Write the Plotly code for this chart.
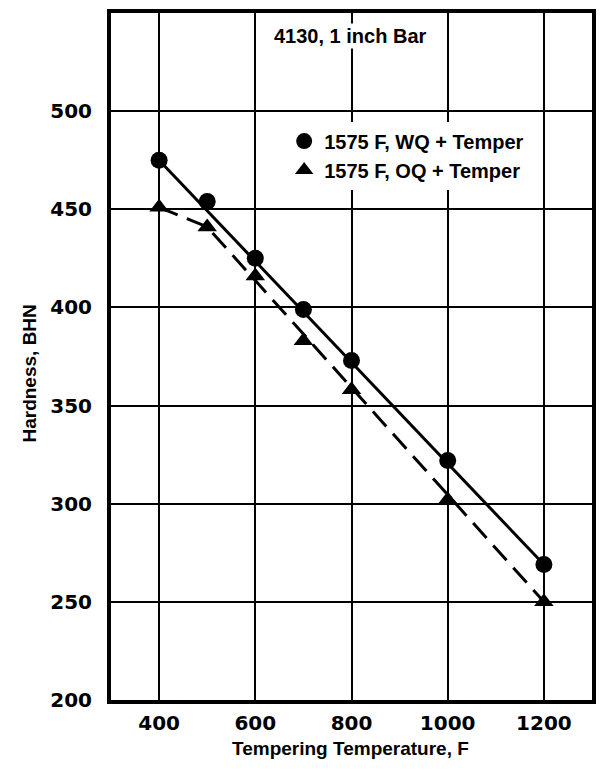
import plotly.graph_objects as go

# Tempering temperature (F) and Brinell hardness for 4130, 1 inch bar
temps = [400, 500, 600, 700, 800, 1000, 1200]
bhn_wq = [475, 454, 425, 399, 373, 322, 269]
bhn_oq = [451, 441, 416, 383, 358, 302, 250]

# Trend curves drawn through the data
trend_temp_wq = [400, 1200]
trend_bhn_wq = [475, 269]
trend_temp_oq = [400, 500, 1200]
trend_bhn_oq = [451, 441, 250]

x_ticks = [400, 600, 800, 1000, 1200]
y_ticks = [200, 250, 300, 350, 400, 450, 500]

label_wq = "1575 F, WQ + Temper"
label_oq = "1575 F, OQ + Temper"

TXT = "Liberation Sans"
TICK = "DejaVu Sans"

fig = go.Figure()

fig.add_trace(go.Scatter(x=trend_temp_wq, y=trend_bhn_wq, mode="lines",
                         line=dict(color="black", width=3), showlegend=False,
                         hoverinfo="skip"))
fig.add_trace(go.Scatter(x=trend_temp_oq, y=trend_bhn_oq, mode="lines",
                         line=dict(color="black", width=3, dash="20px,10px"),
                         showlegend=False, hoverinfo="skip"))
fig.add_trace(go.Scatter(x=temps, y=bhn_wq, mode="markers", name=label_wq,
                         marker=dict(symbol="circle", size=17, color="black")))
fig.add_trace(go.Scatter(x=temps, y=bhn_oq, mode="markers", name=label_oq,
                         marker=dict(symbol="triangle-up", size=17, color="black")))

fig.update_layout(
    width=605, height=771,
    margin=dict(l=111, r=9, t=9, b=71),
    paper_bgcolor="white", plot_bgcolor="white",
    showlegend=True,
    legend=dict(x=0.36, y=0.842, xanchor="left", yanchor="top",
                bgcolor="white", borderwidth=0,
                font=dict(family=TXT, size=20, color="black", weight="bold"),
                tracegroupgap=0, itemclick=False),
    annotations=[
        dict(text="4130, 1 inch Bar", xref="paper", yref="paper",
             x=(352 - 111) / 485, y=(702 - 32) / 693, xanchor="center", yanchor="middle",
             showarrow=False, bgcolor="white",
             font=dict(family=TXT, size=20, color="black", weight="bold")),
        dict(text="Tempering Temperature, F", xref="paper", yref="paper",
             x=(352 - 111) / 485, y=-(751 - 702) / 693, xanchor="center", yanchor="middle",
             showarrow=False,
             font=dict(family=TXT, size=19, color="black", weight="bold")),
        dict(text="Hardness, BHN", xref="paper", yref="paper", textangle=-90,
             x=-(111 - 29) / 485, y=(702 - 373) / 693, xanchor="center", yanchor="middle",
             showarrow=False,
             font=dict(family=TXT, size=19, color="black", weight="bold")),
    ],
)

fig.update_xaxes(range=[300, 1300], tickvals=x_ticks, showgrid=True,
                 gridcolor="black", gridwidth=2, zeroline=False,
                 showline=True, linecolor="black", linewidth=4, mirror=True,
                 ticks="", ticklabelstandoff=2,
                 tickfont=dict(family=TICK, size=20, color="black", weight="bold"))
fig.update_yaxes(range=[200, 550], tickvals=y_ticks, showgrid=True,
                 gridcolor="black", gridwidth=2, zeroline=False,
                 showline=True, linecolor="black", linewidth=4, mirror=True,
                 ticks="", ticklabelstandoff=11,
                 tickfont=dict(family=TICK, size=20, color="black", weight="bold"))

fig.write_html("out.html")
